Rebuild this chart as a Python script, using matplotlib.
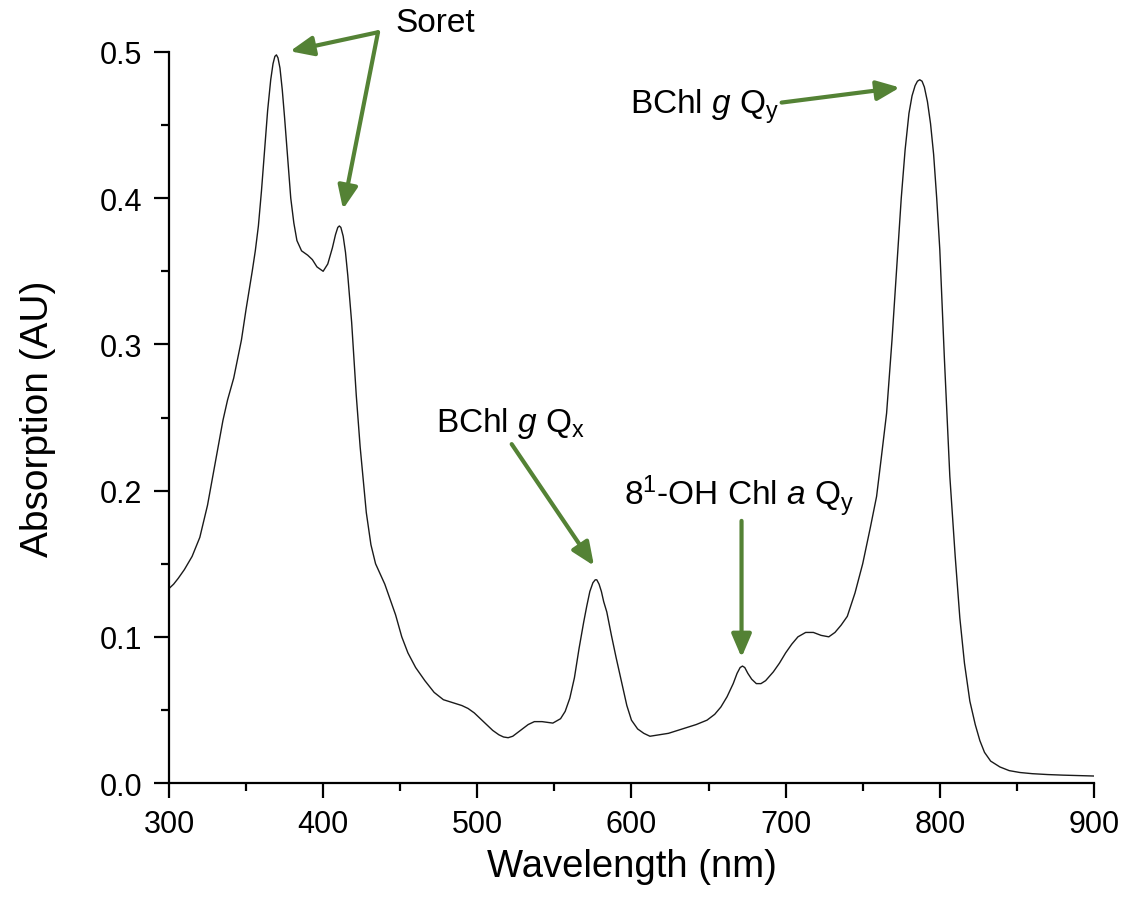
import numpy as np
import matplotlib
matplotlib.use('Agg')
import matplotlib.pyplot as plt

plt.rcParams['font.family'] = ['Liberation Sans', 'DejaVu Sans']
plt.rcParams['mathtext.fontset'] = 'custom'
plt.rcParams['mathtext.rm'] = 'Liberation Sans'
plt.rcParams['mathtext.it'] = 'Liberation Sans:italic'

# absorption spectrum (nm, AU)
wavelength = [300, 303, 306, 310, 315, 320, 325, 330, 335, 338, 342, 347, 350, 354, 356,
              358, 360, 362, 364, 366, 367.5, 368.7, 369.7, 370.7, 372, 373.5, 375, 377,
              379, 381, 383, 386, 390, 393, 396, 400, 403, 406, 408, 409.5, 410.5, 411.5,
              413, 414.5, 416, 418.5, 421.5, 424, 428, 431, 434, 437, 440, 444, 447, 451,
              455, 460, 466, 472, 478, 484, 490, 494, 498, 502, 506, 510, 514, 517, 520,
              523, 528, 533, 537, 542, 549, 554, 557, 560, 563, 566, 569, 571, 573, 575,
              576.5, 577.5, 579, 580.5, 582, 584, 587, 590, 593, 597, 600, 604, 608, 612,
              618, 624, 630, 636, 642, 649, 654, 658, 662, 666, 668.5, 670.5, 672, 673.5,
              675.5, 678, 681, 684, 687, 692, 696, 700, 704, 708, 713, 718, 723, 728, 732,
              736, 740, 745, 750, 755, 759, 762, 765.5, 769, 772, 775, 777.5, 780, 782,
              784, 785.5, 787, 788.5, 790, 792, 794, 796, 798, 800, 803, 806.5, 810, 813,
              816, 819.5, 823, 826, 829, 833, 839, 845, 852, 860, 870, 880, 890, 900]
absorption = [0.133, 0.136, 0.140, 0.146, 0.155, 0.168, 0.190, 0.219, 0.248, 0.262, 0.277,
              0.303, 0.324, 0.350, 0.364, 0.381, 0.405, 0.433, 0.460, 0.481, 0.492, 0.497,
              0.498, 0.496, 0.489, 0.474, 0.455, 0.427, 0.400, 0.383, 0.371, 0.364, 0.361,
              0.358, 0.353, 0.350, 0.355, 0.366, 0.375, 0.380, 0.381, 0.380, 0.374, 0.363,
              0.347, 0.315, 0.265, 0.230, 0.185, 0.163, 0.150, 0.143, 0.136, 0.124, 0.115,
              0.100, 0.089, 0.079, 0.070, 0.062, 0.057, 0.055, 0.053, 0.051, 0.048, 0.044,
              0.040, 0.036, 0.033, 0.0315, 0.031, 0.032, 0.036, 0.040, 0.042, 0.042, 0.041,
              0.044, 0.049, 0.058, 0.072, 0.092, 0.110, 0.121, 0.131, 0.137, 0.139, 0.139,
              0.136, 0.131, 0.124, 0.117, 0.101, 0.086, 0.072, 0.053, 0.043, 0.037, 0.034,
              0.032, 0.033, 0.034, 0.036, 0.038, 0.040, 0.043, 0.047, 0.052, 0.059, 0.068,
              0.075, 0.079, 0.080, 0.079, 0.075, 0.071, 0.068, 0.068, 0.070, 0.076, 0.082,
              0.089, 0.095, 0.100, 0.103, 0.103, 0.101, 0.100, 0.103, 0.108, 0.114, 0.130,
              0.150, 0.175, 0.196, 0.222, 0.253, 0.303, 0.352, 0.400, 0.433, 0.458, 0.470,
              0.477, 0.480, 0.481, 0.480, 0.476, 0.466, 0.451, 0.430, 0.400, 0.365, 0.290,
              0.210, 0.155, 0.113, 0.082, 0.056, 0.040, 0.029, 0.021, 0.015, 0.011, 0.0085,
              0.0072, 0.0064, 0.0058, 0.0054, 0.0051, 0.0048]

green = '#548235'

fig = plt.figure(figsize=(11.25, 9.04), dpi=100)
ax = fig.add_axes([0.1502, 0.1327, 0.8222, 0.8087])
ax.plot(wavelength, absorption, color='#1a1a1a', lw=1.0)

ax.set_xlim(300, 900)
ax.set_ylim(0, 0.5)
ax.set_xticks(np.arange(300, 901, 100))
ax.set_xticks(np.arange(350, 900, 100), minor=True)
ax.set_yticks(np.arange(0, 0.51, 0.1))
ax.set_yticks(np.arange(0.05, 0.5, 0.1), minor=True)
ax.yaxis.set_major_formatter(matplotlib.ticker.FormatStrFormatter('%.1f'))
ax.spines['top'].set_visible(False)
ax.spines['right'].set_visible(False)
for s in ['left', 'bottom']:
    ax.spines[s].set_linewidth(1.6)
ax.tick_params(which='major', direction='out', length=11, width=1.6, labelsize=22, pad=8)
ax.tick_params(which='minor', direction='out', length=6, width=1.6)
ax.set_xlabel('Wavelength (nm)', fontsize=27.5, labelpad=6)
ax.set_ylabel('Absorption (AU)', fontsize=28, labelpad=32)

arrow = dict(arrowstyle='-|>,head_length=0.7,head_width=0.3', color=green, lw=3,
             shrinkA=0, shrinkB=0, mutation_scale=20)

# Soret bands
ax.text(446.6, 0.52, 'Soret', fontsize=24, ha='left', va='center')
ax.annotate('', xy=(378.5, 0.5005), xytext=(435.6, 0.5135), arrowprops=arrow, annotation_clip=False)
ax.annotate('', xy=(412.9, 0.3925), xytext=(435.6, 0.5135), arrowprops=arrow, annotation_clip=False)

# BChl g Qy
ax.text(696, 0.463, r'BChl $g$ Q$_\mathregular{y}$', fontsize=24, ha='right', va='center')
ax.annotate('', xy=(774.1, 0.4757), xytext=(697.4, 0.4654), arrowprops=arrow)

# BChl g Qx
ax.text(521.8, 0.2466, r'BChl $g$ Q$_\mathregular{x}$', fontsize=24, ha='center', va='center')
ax.annotate('', xy=(575.7, 0.1486), xytext=(522.3, 0.2318), arrowprops=arrow)

# 8^1-OH Chl a Qy
ax.text(669.7, 0.1964, r'8$^\mathregular{1}$-OH Chl $a$ Q$_\mathregular{y}$', fontsize=24,
        ha='center', va='center')
ax.annotate('', xy=(671.4, 0.0859), xytext=(671.4, 0.1793), arrowprops=arrow)

fig.savefig('out.png', dpi=100)
